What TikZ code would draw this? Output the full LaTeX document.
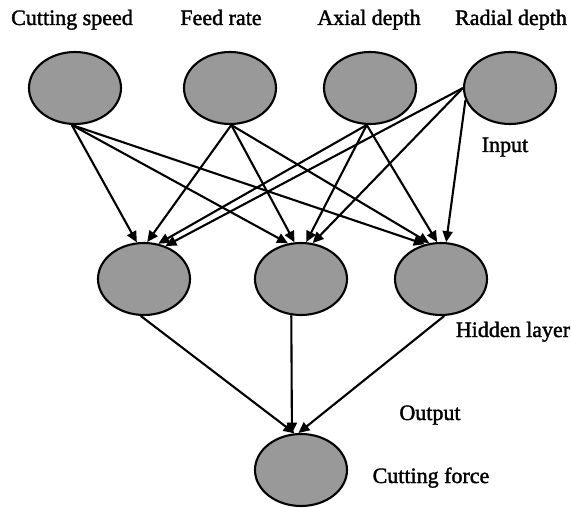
\documentclass[tikz,border=0pt]{standalone}
\usepackage{fontspec}
\setmainfont{Liberation Serif}
\newfontfamily\lblfont[FakeBold=1.6]{Liberation Serif}
\usetikzlibrary{arrows.meta,shapes.geometric}
\definecolor{nodegray}{RGB}{153,153,153}
\begin{document}
\begin{tikzpicture}[x=1pt,y=-1pt,
  neuron/.style={ellipse,draw=black,fill=nodegray,line width=2.1pt,minimum width=92pt,minimum height=72pt,inner sep=0pt},
  lbl/.style={font=\lblfont\fontsize{22}{24}\selectfont,anchor=base,inner sep=0pt},
  conn/.style={line width=2.1pt,-{Triangle[length=11pt,width=10pt]}}]
\useasboundingbox (0,0) rectangle (571,508);
% input layer
\node[neuron] (cs) at (75,88) {};
\node[neuron] (fr) at (230,88) {};
\node[neuron] (ad) at (370,88) {};
\node[neuron] (rd) at (510,88) {};
% hidden layer
\node[neuron] (h1) at (144,279) {};
\node[neuron] (h2) at (301,279) {};
\node[neuron] (h3) at (441,279) {};
% output
\node[neuron] (o) at (301,470) {};
% labels
\node[lbl] (tcs) at (72,25) {Cutting speed};
\node[lbl] (tfr) at (221,25) {Feed rate};
\node[lbl] (tad) at (369,25) {Axial depth};
\node[lbl] (trd) at (511,25) {Radial depth};
\node[lbl] (tin) at (505,152) {Input};
\node[lbl] (thl) at (513,337) {Hidden layer};
\node[lbl] (tout) at (430,420) {Output};
\node[lbl] (tcf) at (431,483) {Cutting force};
% connectors input -> hidden
\draw[conn] (cs.265) -- (h1.101);
\draw[conn] (cs.265) -- (h2.110);
\draw[conn] (cs.265) -- (h3.115);
\draw[conn] (fr.272) -- (h1.85);
\draw[conn] (fr.272) -- (h2.100);
\draw[conn] (fr.272) -- (h3.108);
\draw[conn] (ad.265) -- (h1.68);
\draw[conn] (ad.265) -- (h2.82);
\draw[conn] (ad.265) -- (h3.96);
\draw[conn] (rd.west) -- (h1.57);
\draw[conn] (rd.west) -- (h2.72);
\draw[conn] (rd.195) -- (h3.82);
% hidden -> output
\draw[conn] (h1.265) -- (o.100);
\draw[conn] (h2.255) -- (o.104);
\draw[conn] (h3.275) -- (o.94);
\end{tikzpicture}
\end{document}
